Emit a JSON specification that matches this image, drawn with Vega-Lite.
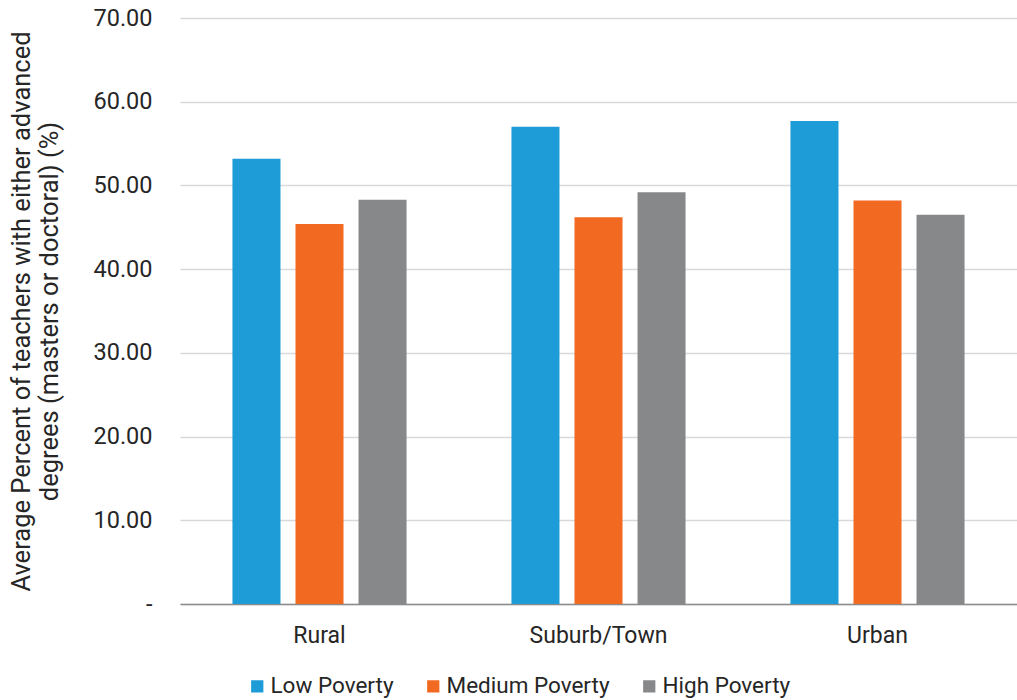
{
  "$schema": "https://vega.github.io/schema/vega-lite/v6.json",
  "width": 837,
  "height": 586,
  "autosize": {"type": "none"},
  "padding": {"left": 180, "top": 18, "right": 0, "bottom": 96},
  "background": "white",
  "config": {
    "view": {"stroke": null},
    "font": "Roboto"
  },
  "data": {
    "values": [
      {"Locale": "Rural", "Poverty": "Low Poverty", "Value": 53.2},
      {"Locale": "Rural", "Poverty": "Medium Poverty", "Value": 45.4},
      {"Locale": "Rural", "Poverty": "High Poverty", "Value": 48.3},
      {"Locale": "Suburb/Town", "Poverty": "Low Poverty", "Value": 57.0},
      {"Locale": "Suburb/Town", "Poverty": "Medium Poverty", "Value": 46.2},
      {"Locale": "Suburb/Town", "Poverty": "High Poverty", "Value": 49.2},
      {"Locale": "Urban", "Poverty": "Low Poverty", "Value": 57.7},
      {"Locale": "Urban", "Poverty": "Medium Poverty", "Value": 48.2},
      {"Locale": "Urban", "Poverty": "High Poverty", "Value": 46.5}
    ]
  },
  "mark": {"type": "bar"},
  "encoding": {
    "x": {
      "field": "Locale",
      "type": "nominal",
      "sort": ["Rural", "Suburb/Town", "Urban"],
      "scale": {"paddingInner": 0.376, "paddingOuter": 0.188},
      "axis": {
        "title": null,
        "labelAngle": 0,
        "labelFontSize": 23,
        "labelColor": "#262626",
        "labelPadding": 20,
        "ticks": false,
        "domainColor": "#8c8c8c",
        "domainWidth": 1.5,
        "grid": false
      }
    },
    "xOffset": {
      "field": "Poverty",
      "type": "nominal",
      "sort": ["Low Poverty", "Medium Poverty", "High Poverty"],
      "scale": {"paddingInner": 0.238, "paddingOuter": 0}
    },
    "y": {
      "field": "Value",
      "type": "quantitative",
      "scale": {"domain": [0, 70], "nice": false},
      "axis": {
        "title": ["Average Percent of teachers with either advanced", "degrees (masters or doctoral) (%)"],
        "titleFontSize": 25.5,
        "titleFontWeight": "normal",
        "titleColor": "#262626",
        "titleLineHeight": 28,
        "titlePadding": 30,
        "values": [0, 10, 20, 30, 40, 50, 60, 70],
        "labelExpr": "datum.value == 0 ? '-' : format(datum.value, '.2f')",
        "labelFontSize": 23.5,
        "labelColor": "#262626",
        "labelPadding": 28,
        "ticks": false,
        "domain": false,
        "grid": true,
        "gridColor": "#d9d9d9",
        "gridWidth": 1.5
      }
    },
    "color": {
      "field": "Poverty",
      "type": "nominal",
      "sort": ["Low Poverty", "Medium Poverty", "High Poverty"],
      "scale": {
        "domain": ["Low Poverty", "Medium Poverty", "High Poverty"],
        "range": ["#1e9cd7", "#f26a22", "#87888a"]
      },
      "legend": {
        "title": null,
        "orient": "none",
        "direction": "horizontal",
        "legendX": 66,
        "legendY": 657,
        "symbolType": "square",
        "symbolSize": 150,
        "symbolStrokeWidth": 0,
        "labelFontSize": 22.5,
        "labelColor": "#262626",
        "labelOffset": 2,
        "labelLimit": 400,
        "columnPadding": 28
      }
    }
  }
}
